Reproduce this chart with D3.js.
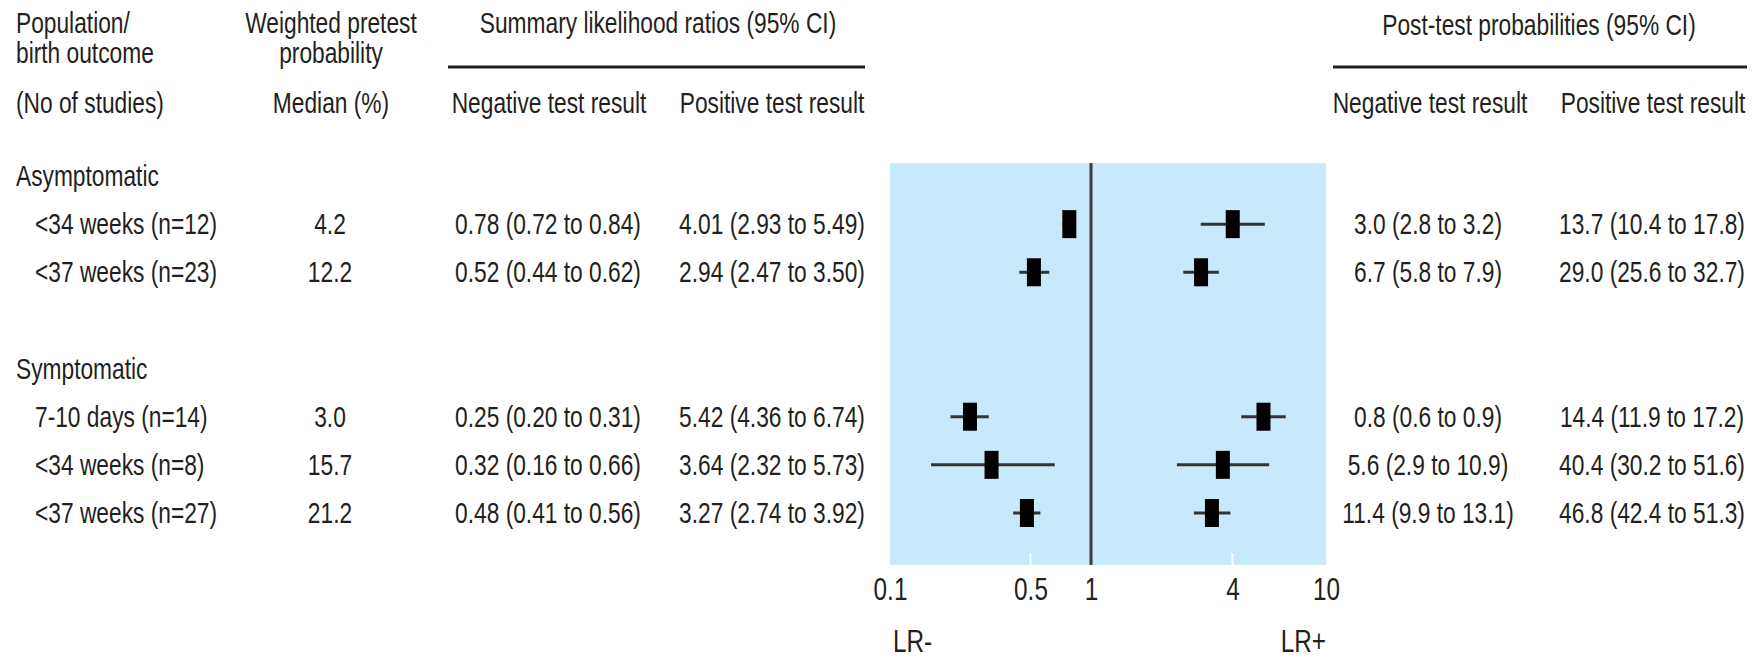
<!DOCTYPE html>
<html>
<head>
<meta charset="utf-8">
<script src="https://cdn.jsdelivr.net/npm/d3@7"></script>
<style>
  html, body { margin: 0; padding: 0; background: #fff; }
  svg { display: block; }
  text { font-family: "Liberation Sans", Arial, sans-serif; fill: #231f20; }
</style>
</head>
<body>
<svg id="chart" width="1763" height="659"></svg>
<script>
// Row labels
const groups = ["Asymptomatic", "Symptomatic"];
const groupRow = [0, 4];
const outcomes = ["<34 weeks (n=12)", "<37 weeks (n=23)", "7-10 days (n=14)", "<34 weeks (n=8)", "<37 weeks (n=27)"];
const outcomeRow = [1, 2, 5, 6, 7];

// Weighted pretest probability, median (%)
const pretest = [4.2, 12.2, 3.0, 15.7, 21.2];

// Summary likelihood ratios with 95% CI
const lrNeg   = [0.78, 0.52, 0.25, 0.32, 0.48];
const lrNegLo = [0.72, 0.44, 0.20, 0.16, 0.41];
const lrNegHi = [0.84, 0.62, 0.31, 0.66, 0.56];
const lrPos   = [4.01, 2.94, 5.42, 3.64, 3.27];
const lrPosLo = [2.93, 2.47, 4.36, 2.32, 2.74];
const lrPosHi = [5.49, 3.50, 6.74, 5.73, 3.92];

// Post-test probabilities (%) with 95% CI
const postNeg   = [3.0, 6.7, 0.8, 5.6, 11.4];
const postNegLo = [2.8, 5.8, 0.6, 2.9, 9.9];
const postNegHi = [3.2, 7.9, 0.9, 10.9, 13.1];
const postPos   = [13.7, 29.0, 14.4, 40.4, 46.8];
const postPosLo = [10.4, 25.6, 11.9, 30.2, 42.4];
const postPosHi = [17.8, 32.7, 17.2, 51.6, 51.3];

// Likelihood ratio axis ticks
const lrTicks = [0.1, 0.5, 1, 4, 10];

const svg = d3.select("#chart");
const FS = 29;        // body font size
const SX = 0.785;     // horizontal condensing of the typeface

// Row baselines
const rowY = d3.scaleLinear().domain([0, 7]).range([186, 523]);
// Log scale for likelihood ratios, 1 at the centre line
const x = d3.scaleLog().domain([0.1, 1, 10]).range([890, 1091, 1326]);

const f1 = d3.format(".1f"), f2 = d3.format(".2f");
const ci = (fmt, v, lo, hi) => `${fmt(v)} (${fmt(lo)} to ${fmt(hi)})`;

// Condensed text: anchored at (xp, yp), squeezed horizontally
function txt(xp, yp, s, anchor, size) {
  return svg.append("text")
    .attr("transform", `translate(${xp},${yp}) scale(${SX},1)`)
    .attr("text-anchor", anchor || "start")
    .style("font-size", (size || FS) + "px").text(s);
}

// Column headers
txt(16, 33, "Population/");
txt(16, 63, "birth outcome");
txt(16, 113, "(No of studies)");
txt(331, 33, "Weighted pretest", "middle");
txt(331, 63, "probability", "middle");
txt(331, 113, "Median (%)", "middle");
txt(658, 33, "Summary likelihood ratios (95% CI)", "middle");
txt(549, 113, "Negative test result", "middle");
txt(772, 113, "Positive test result", "middle");
txt(1539, 35, "Post-test probabilities (95% CI)", "middle");
txt(1430, 113, "Negative test result", "middle");
txt(1653, 113, "Positive test result", "middle");

svg.append("line").attr("x1", 448).attr("x2", 865).attr("y1", 67).attr("y2", 67)
  .attr("stroke", "#231f20").attr("stroke-width", 3);
svg.append("line").attr("x1", 1333).attr("x2", 1747).attr("y1", 67).attr("y2", 67)
  .attr("stroke", "#231f20").attr("stroke-width", 3);

// Plot panel
const panelTop = 163, panelBottom = 565;
svg.append("rect").attr("x", x(0.1)).attr("y", panelTop)
  .attr("width", x(10) - x(0.1)).attr("height", panelBottom - panelTop)
  .attr("fill", "#c8e9fb");

// White inner ticks at the bottom of the panel
svg.selectAll("line.itick").data(lrTicks.filter(d => d !== 1 && d !== 0.1 && d !== 10))
  .join("line").attr("class", "itick")
  .attr("x1", d => x(d)).attr("x2", d => x(d))
  .attr("y1", panelBottom - 12).attr("y2", panelBottom)
  .attr("stroke", "#fff").attr("stroke-width", 2);

// Line of no effect
svg.append("line").attr("x1", x(1)).attr("x2", x(1))
  .attr("y1", panelTop).attr("y2", panelBottom)
  .attr("stroke", "#3d3d3d").attr("stroke-width", 3);

// Axis labels
const axis = d3.axisBottom(x).tickValues(lrTicks).tickFormat(d => String(d)).tickSize(0).tickPadding(0);
const ag = svg.append("g").attr("transform", `translate(0, ${panelBottom})`).call(axis);
ag.select(".domain").remove();
ag.selectAll("text").attr("dy", null).attr("y", null)
  .attr("transform", `translate(0,35) scale(${SX},1)`)
  .style("font-size", "31px").style("font-family", null).attr("fill", "#231f20");
txt(893, 652, "LR-", "start", 31);
txt(1326, 652, "LR+", "end", 31);

// Group headings
groups.forEach((g, i) => txt(16, rowY(groupRow[i]), g));

// Rows
outcomes.forEach((o, i) => {
  const yb = rowY(outcomeRow[i]);
  txt(35, yb, o);
  txt(330, yb, f1(pretest[i]), "middle");
  txt(548, yb, ci(f2, lrNeg[i], lrNegLo[i], lrNegHi[i]), "middle");
  txt(772, yb, ci(f2, lrPos[i], lrPosLo[i], lrPosHi[i]), "middle");
  txt(1428, yb, ci(f1, postNeg[i], postNegLo[i], postNegHi[i]), "middle");
  txt(1652, yb, ci(f1, postPos[i], postPosLo[i], postPosHi[i]), "middle");

  const ym = yb - 10;
  [[lrNeg, lrNegLo, lrNegHi], [lrPos, lrPosLo, lrPosHi]].forEach(([v, lo, hi]) => {
    svg.append("line").attr("x1", x(lo[i])).attr("x2", x(hi[i]))
      .attr("y1", ym).attr("y2", ym)
      .attr("stroke", "#333").attr("stroke-width", 3);
    svg.append("rect").attr("x", x(v[i]) - 7).attr("y", ym - 14)
      .attr("width", 14).attr("height", 28).attr("fill", "#000");
  });
});
</script>
</body>
</html>
